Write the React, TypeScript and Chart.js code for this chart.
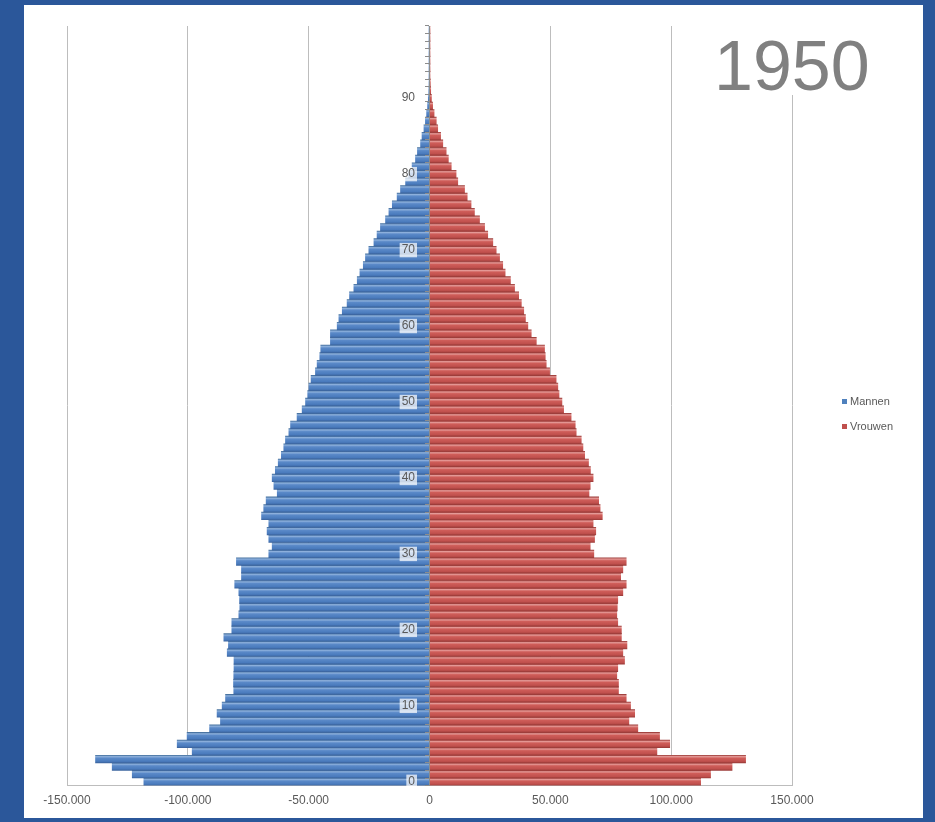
import React, { useEffect, useRef } from 'react';
import { Chart, registerables } from 'chart.js';

Chart.register(...registerables);

// ---- data ----
const TITLE = '1950';
const seriesNames = ['Mannen', 'Vrouwen'];
const ages: string[] = Array.from({ length: 100 }, (_, i) => String(i));

const mannen: number[] = [
  118200, 123000, 131300, 138200, 98200, 104400, 100300, 91000, 86500, 87900,
  85800, 84400, 81000, 81100, 81000, 80900, 80900, 83700, 83200, 85100,
  81800, 81800, 78900, 78500, 78600, 78900, 80600, 77800, 77800, 79900,
  66500, 65100, 66500, 67200, 66500, 69500, 68600, 67600, 63000, 64400,
  65100, 63800, 62600, 61300, 60300, 59600, 58200, 57500, 54800, 52700,
  51300, 50400, 49900, 49000, 47200, 46500, 45400, 45000, 41000, 41000,
  38200, 37500, 36100, 34100, 33100, 31300, 29900, 28800, 27400, 26500,
  25100, 23000, 21700, 20300, 18200, 16800, 15400, 13400, 12000, 9900,
  8600, 7200, 5800, 5000, 3700, 3100, 2300, 1700, 1200, 800,
  500, 300, 200, 120, 80, 50, 30, 20, 10, 5,
];

const vrouwen: number[] = [
  112200, 116300, 125200, 130800, 94100, 99400, 95200, 86200, 82500, 84900,
  83200, 81400, 78200, 78200, 77500, 77900, 80700, 80000, 81700, 79400,
  79400, 77900, 77500, 77700, 77900, 80000, 81400, 79100, 80000, 81400,
  68000, 66500, 68300, 68800, 67700, 71500, 70600, 70000, 66000, 66500,
  67700, 66600, 65800, 64200, 63500, 62800, 60700, 60300, 58600, 55500,
  54800, 53600, 53100, 52400, 49700, 48300, 47900, 47600, 44200, 42100,
  40700, 39700, 39000, 38000, 36900, 35200, 33500, 31300, 30300, 29000,
  27600, 26200, 24100, 22800, 20700, 18600, 17200, 15600, 14500, 11700,
  11000, 9000, 7800, 6900, 5500, 4600, 3400, 2800, 1900, 1300,
  800, 500, 350, 200, 120, 80, 50, 30, 15, 10,
];

const xMin = -150000;
const xMax = 150000;
const xStep = 50000;
const ageLabelEvery = 10;

// ---- styles ----
const FRAME = '#2b579a';
const FONT = '"Liberation Sans", Arial, sans-serif';
const TEXT = '#595959';
const BLUE = '#4f81bd';
const RED = '#c0504d';
const blueStops = ['#46719f', '#8db0dc', '#5a89c8', '#4a7bbd', '#3c659f'];
const redStops = ['#9e3e3b', '#e59a97', '#cf5d59', '#c0504d', '#9c3c39'];
const LABEL_SHIFT = -6000; // where the age labels sit, just left of the axis

function fmt(v: number): string {
  const s = String(Math.abs(Math.round(v))).replace(/\B(?=(\d{3})+(?!\d))/g, '.');
  return (v < 0 ? '-' : '') + s;
}

function barFill(stops: string[], flat: string) {
  return (ctx: any) => {
    const chart = ctx.chart;
    const y = chart.scales && chart.scales.y;
    if (!y || ctx.type !== 'data' || !y.height) return flat;
    const c = y.getPixelForValue(ctx.dataIndex);
    const h = y.height / ages.length;
    const g = chart.ctx.createLinearGradient(0, c - h / 2, 0, c + h / 2);
    g.addColorStop(0, stops[0]);
    g.addColorStop(0.18, stops[1]);
    g.addColorStop(0.4, stops[2]);
    g.addColorStop(0.8, stops[3]);
    g.addColorStop(1, stops[4]);
    return g;
  };
}

const overlayPlugin = {
  id: 'overlay',
  afterDraw(chart: any) {
    const c = chart.ctx as CanvasRenderingContext2D;
    const area = chart.chartArea;
    c.save();
    // title box
    c.fillStyle = '#ffffff';
    c.fillRect(680, area.top - 1, 180, 70);
    c.fillStyle = '#808080';
    c.font = `70px ${FONT}`;
    c.textBaseline = 'alphabetic';
    c.textAlign = 'left';
    c.fillText(TITLE, 690, 85);
    // legend
    const colors = [BLUE, RED];
    c.font = `11px ${FONT}`;
    c.textBaseline = 'middle';
    seriesNames.forEach((name, i) => {
      const cy = 396 + i * 25;
      c.fillStyle = colors[i];
      c.fillRect(818, cy - 2, 5, 5);
      c.fillStyle = TEXT;
      c.fillText(name, 826, cy + 0.5);
    });
    c.restore();
  },
};

export default function App() {
  const ref = useRef<HTMLCanvasElement>(null);

  useEffect(() => {
    document.body.style.margin = '0';
    document.body.style.background = FRAME;
    const chart = new Chart(ref.current as HTMLCanvasElement, {
      type: 'bar',
      data: {
        labels: ages,
        datasets: [
          {
            label: seriesNames[0],
            data: mannen.map((v) => -v),
            backgroundColor: barFill(blueStops, BLUE) as any,
            borderWidth: 0,
            categoryPercentage: 1,
            barPercentage: 1,
          },
          {
            label: seriesNames[1],
            data: vrouwen,
            backgroundColor: barFill(redStops, RED) as any,
            borderWidth: 0,
            categoryPercentage: 1,
            barPercentage: 1,
          },
        ],
      },
      options: {
        indexAxis: 'y',
        responsive: false,
        animation: false,
        layout: { padding: { left: 43, right: 131, top: 21, bottom: 2 } },
        plugins: {
          legend: { display: false },
          tooltip: { enabled: false },
        },
        scales: {
          x: {
            type: 'linear',
            min: xMin,
            max: xMax,
            stacked: true,
            ticks: {
              stepSize: xStep,
              callback: (v: any) => fmt(Number(v)),
              color: TEXT,
              font: { family: FONT, size: 12 },
              padding: 8,
              maxRotation: 0,
            },
            grid: { color: '#bdbdbd', drawTicks: false, tickLength: 0, lineWidth: 1 },
            border: { display: true, color: '#bdbdbd' },
          },
          y: {
            type: 'category',
            reverse: true,
            stacked: true,
            offset: true,
            position: { x: 0 } as any,
            ticks: {
              autoSkip: false,
              callback: () => '',
              z: 1,
            },
            grid: { drawOnChartArea: false, drawTicks: true, tickLength: 4, color: '#8c8c8c', offset: true, z: 1 },
            border: { display: true, color: '#8c8c8c', z: 1 },
          },
          yLabels: {
            type: 'category',
            axis: 'y',
            reverse: true,
            offset: true,
            position: { x: LABEL_SHIFT } as any,
            grid: { display: false, drawTicks: false, z: 2 },
            border: { display: false, z: 2 },
            ticks: {
              z: 2,
              autoSkip: false,
              callback: (_v: any, i: number) => (i % ageLabelEvery === 0 ? ages[i] : ''),
              color: TEXT,
              font: { family: FONT, size: 12 },
              padding: 0,
              showLabelBackdrop: ((ctx: any) => ctx.index % ageLabelEvery === 0) as any,
              backdropColor: 'rgba(255,255,255,0.72)',
              backdropPadding: { top: 0, bottom: 0, left: 2, right: 2 } as any,
            },
          } as any,
        },
      },
      plugins: [overlayPlugin],
    });
    return () => chart.destroy();
  }, []);

  return (
    <div style={{ width: 935, height: 822, background: FRAME, position: 'relative' }}>
      <div
        style={{
          position: 'absolute',
          left: 24,
          top: 5,
          width: 899,
          height: 813,
          background: '#ffffff',
        }}
      >
        <canvas ref={ref} width={899} height={813} style={{ display: 'block' }} />
      </div>
    </div>
  );
}
